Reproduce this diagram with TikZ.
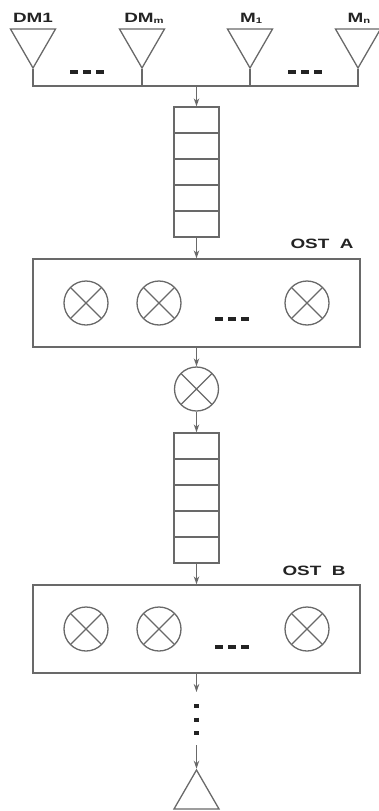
\documentclass[tikz,border=0pt]{standalone}
\usepackage{fontspec}
\setmainfont{Liberation Sans}
\newfontfamily\lblfont{Liberation Sans}[FakeStretch=1.4]
\usetikzlibrary{arrows.meta, shapes.geometric}
\definecolor{wgray}{RGB}{105, 105, 105}
\definecolor{tdark}{RGB}{35, 35, 35}

\begin{document}
\begin{tikzpicture}[x=1pt, y=1pt,
  every node/.style={inner sep=0pt},
  wire/.style={draw=wgray, line width=1.3pt},
  fwd/.style={wire, -{Stealth[length=8pt, width=5.5pt]}},
  ant/.style={regular polygon, regular polygon sides=3, draw=wgray,
              line width=1.3pt, minimum size=52pt, shape border rotate=#1},
  lbl/.style={font=\lblfont\bfseries\fontsize{13.5}{14}\selectfont,
              text=tdark, anchor=base},
  queue/.style={rectangle, draw=wgray, line width=1.3pt,
                minimum width=45pt, minimum height=130pt,
                path picture={\foreach \k in {1,...,4}
                  \draw[wire] ([yshift=-\k*26pt]path picture bounding box.north west)
                    -- ([yshift=-\k*26pt]path picture bounding box.north east);}},
  ost/.style={rectangle, draw=wgray, line width=1.3pt,
              minimum width=327pt, minimum height=88pt},
  mix/.style={circle, draw=wgray, line width=1.3pt, minimum size=44pt,
              path picture={\draw[wire]
                (path picture bounding box.north west) -- (path picture bounding box.south east)
                (path picture bounding box.north east) -- (path picture bounding box.south west);}},
  gap/.style={draw=tdark, line width=3.5pt, dash pattern=on 8pt off 5pt},
  vgap/.style={draw=tdark, line width=5pt, dash pattern=on 4pt off 9.5pt}
]
\useasboundingbox (0,0) rectangle (378,-811);

% Antennas
\node[ant=180] (dm1) at (33,-42)  {};
\node[ant=180] (dmm) at (142,-42) {};
\node[ant=180] (m1)  at (250,-42) {};
\node[ant=180] (mn)  at (358,-42) {};

\node[lbl] (ldm1) at (33,-23)  {DM1};
\node[lbl] (ldmm) at (144,-23) {DM{\fontsize{8}{9}\selectfont\raisebox{-1pt}{m}}};
\node[lbl] (lm1)  at (251,-23) {M{\fontsize{8}{9}\selectfont\raisebox{-1pt}{1}}};
\node[lbl] (lmn)  at (359,-23) {M{\fontsize{8}{9}\selectfont\raisebox{-1pt}{n}}};

\draw[gap] (70,-72)  -- (104,-72);
\draw[gap] (288,-72) -- (322,-72);

% Bus
\coordinate (bus) at (196.5,-86);
\draw[wire] (dm1.south) |- (bus) -| (mn.south);
\draw[wire] (dmm.south) -- (dmm.south |- bus);
\draw[wire] (m1.south)  -- (m1.south |- bus);

% Stage A
\node[queue] (qa) at (196.5,-172) {};
\node[ost]   (osta) at (196.5,-303) {};
\node[lbl]   (losta) at (322,-248) {OST\ \ A};
\node[mix] (a1) at (86,-303)  {};
\node[mix] (a2) at (159,-303) {};
\node[mix] (a3) at (307,-303) {};
\draw[gap] (215,-319) -- (249,-319);

\node[mix] (mid) at (196.5,-389) {};

% Stage B
\node[queue] (qb) at (196.5,-498) {};
\node[ost]   (ostb) at (196.5,-629) {};
\node[lbl]   (lostb) at (314,-575) {OST\ \ B};
\node[mix] (b1) at (86,-629)  {};
\node[mix] (b2) at (159,-629) {};
\node[mix] (b3) at (307,-629) {};
\draw[gap] (215,-647) -- (249,-647);

% Output
\coordinate (tail) at (196.5,-692);
\coordinate (head) at (196.5,-745);
\node[ant=0] (out) at (196.5,-796) {};

% Flow
\draw[fwd] (bus) -- (qa.north);
\draw[fwd] (qa.south) -- (osta.north);
\draw[fwd] (osta.south) -- (mid.north);
\draw[fwd] (mid.south) -- (qb.north);
\draw[fwd] (qb.south) -- (ostb.north);
\draw[fwd] (ostb.south) -- (tail);
\draw[vgap] ([yshift=-12pt]tail) -- ([yshift=10pt]head);
\draw[fwd] (head) -- (out.north);

\end{tikzpicture}
\end{document}
